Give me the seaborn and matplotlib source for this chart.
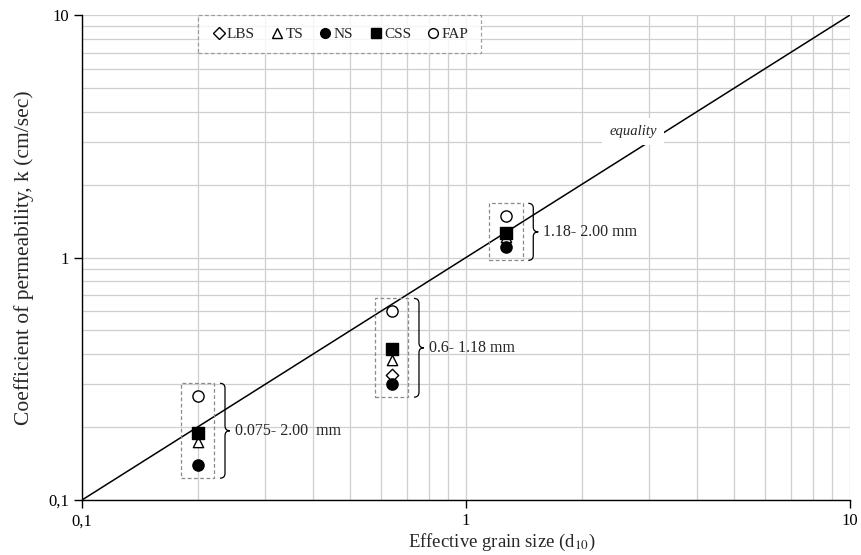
import numpy as np
import pandas as pd
import matplotlib
matplotlib.use("Agg")
import matplotlib.pyplot as plt
from matplotlib.path import Path
from matplotlib.patches import PathPatch, Rectangle
from matplotlib.lines import Line2D
import seaborn as sns

# Effective grain size of each gradation group (mm) and measured permeability (cm/sec)
d10 = [0.20, 0.64, 1.27]
group_labels = ["0.075- 2.00  mm", "0.6- 1.18 mm", "1.18- 2.00 mm"]
k_lbs = [np.nan, 0.327, np.nan]
k_ts = [0.173, 0.377, 1.22]
k_ns = [0.139, 0.300, 1.10]
k_css = [0.189, 0.420, 1.26]
k_fap = [0.268, 0.600, 1.48]

series_names = ["LBS", "TS", "NS", "CSS", "FAP"]
series_values = [k_lbs, k_ts, k_ns, k_css, k_fap]
markers = ["D", "^", "o", "s", "o"]
face = ["white", "white", "black", "black", "white"]
msize = [40, 55, 65, 65, 65]

sns.set_theme(style="white")
plt.rcParams["font.family"] = ["Liberation Serif", "DejaVu Serif"]
plt.rcParams["mathtext.fontset"] = "stix"

fig = plt.figure(figsize=(8.61, 5.55), dpi=100)
ax = fig.add_axes([82 / 861, 55 / 555, 768 / 861, 485 / 555])
ax.set_xscale("log")
ax.set_yscale("log")
ax.set_xlim(0.1, 10)
ax.set_ylim(0.1, 10)

ax.grid(True, which="both", color="#cfcfcf", linewidth=0.9)
ax.set_axisbelow(True)
for side in ["top", "right"]:
    ax.spines[side].set_visible(False)
for side in ["left", "bottom"]:
    ax.spines[side].set_color("black")
    ax.spines[side].set_linewidth(1.0)

# line of equality k = d10
eq = pd.DataFrame({"d": [0.1, 10], "k": [0.1, 10]})
sns.lineplot(data=eq, x="d", y="k", color="black", linewidth=1.1, ax=ax, zorder=3)
ax.text(2.72, 3.3, "equality", style="italic", fontsize=10.5, ha="center", va="center",
        bbox=dict(facecolor="white", edgecolor="none", pad=5), zorder=4)

for name, vals, m, fc, s in zip(series_names, series_values, markers, face, msize):
    df = pd.DataFrame({"d": d10, "k": vals}).dropna()
    sns.scatterplot(data=df, x="d", y="k", marker=m, s=s, facecolor=fc,
                    edgecolor="black", linewidth=1.0, ax=ax, zorder=5)

# dashed boxes and braces around each gradation group
for i, (x, lab) in enumerate(zip(d10, group_labels)):
    vals = [v[i] for v in series_values if not np.isnan(v[i])]
    lo, hi = min(vals) / 1.13, max(vals) * 1.13
    xl, xr = x / 1.105, x * 1.105
    ax.add_patch(Rectangle((xl, lo), xr - xl, hi - lo, fill=False, edgecolor="#8a8a8a",
                           linestyle=(0, (3, 2)), linewidth=0.9, zorder=4))
    # brace in log space
    lx0 = np.log10(xr) + 0.015
    w = 0.013
    ly0, ly1 = np.log10(lo), np.log10(hi)
    ym = 0.5 * (ly0 + ly1)
    c = 0.02
    pts = [(lx0, ly1), (lx0 + w, ly1), (lx0 + w, ly1 - c),
           (lx0 + w, ym + c), (lx0 + w, ym), (lx0 + 2 * w, ym),
           (lx0 + w, ym), (lx0 + w, ym - c), (lx0 + w, ly0 + c),
           (lx0 + w, ly0), (lx0, ly0)]
    pts = [(10 ** a, 10 ** b) for a, b in pts]
    codes = [Path.MOVETO, Path.CURVE3, Path.CURVE3, Path.LINETO,
             Path.CURVE3, Path.CURVE3, Path.CURVE3, Path.CURVE3,
             Path.LINETO, Path.CURVE3, Path.CURVE3]
    ax.add_patch(PathPatch(Path(pts, codes), fill=False, edgecolor="black",
                           linewidth=0.9, zorder=4))
    ax.text(10 ** (lx0 + 2 * w + 0.012), 10 ** ym, lab, fontsize=11.5, ha="left",
            va="center", zorder=4)

ax.set_xticks([0.1, 1, 10])
ax.set_yticks([0.1, 1, 10])
ax.set_xticklabels(["0,1", "1", "10"])
ax.set_yticklabels(["0,1", "1", "10"])
ax.tick_params(axis="both", which="major", length=6, width=1.0, direction="out",
               labelsize=12, colors="black", bottom=True, left=True)
ax.tick_params(axis="both", which="minor", length=0)

ax.set_xlabel("Effective grain size (d$_{10}$)", fontsize=13.5, labelpad=0)
ax.xaxis.set_label_coords(0.547, -0.066)
ax.set_ylabel("Coefficient of permeability, k (cm/sec)", fontsize=15.5, labelpad=10)

handles = [Line2D([], [], marker=m, linestyle="none", markerfacecolor=fc,
                  markeredgecolor="black", markersize=7 if m != "D" else 6)
           for m, fc in zip(markers, face)]
leg = ax.legend(handles, series_names, ncol=5, loc="upper left",
                bbox_to_anchor=(0.151, 1.0), fontsize=11, frameon=True,
                handletextpad=0.0, columnspacing=0.9, handlelength=1.1,
                borderpad=0.8, borderaxespad=0.0, fancybox=False)
leg.get_frame().set_edgecolor("#8a8a8a")
leg.get_frame().set_linestyle((0, (3, 2)))
leg.get_frame().set_linewidth(0.9)
leg.set_zorder(6)

fig.savefig("out.png", dpi=100)
